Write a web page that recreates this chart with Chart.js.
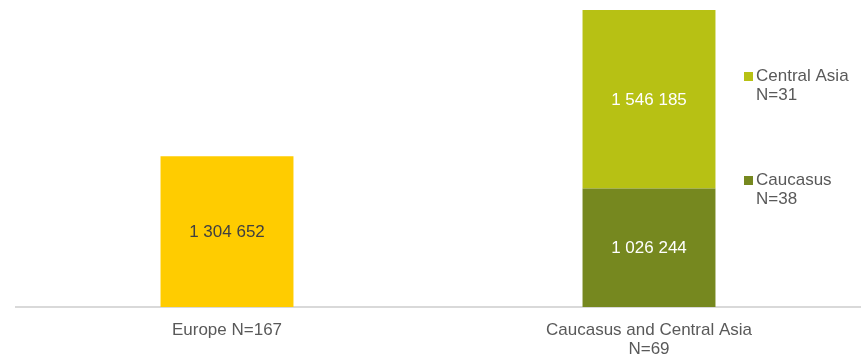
<!DOCTYPE html>
<html>
<head>
<meta charset="utf-8">
<script src="https://cdn.jsdelivr.net/npm/chart.js@4"></script>
<style>
  html, body { margin: 0; padding: 0; background: #fff; }
  #wrap { width: 867px; height: 358px; }
</style>
</head>
<body>
<div id="wrap"><canvas id="chart"></canvas></div>
<script>
// Categories and series
const categories = [['Europe N=167'], ['Caucasus and Central Asia', 'N=69']];
const europe = [1304652, null];
const caucasus = [null, 1026244];
const centralAsia = [null, 1546185];
const legendItems = [['Central Asia', 'N=31'], ['Caucasus', 'N=38']];

const FONT = "'Liberation Sans', Arial, sans-serif";

// Thousands with a plain space: 1 304 652
function fmt(v) {
  return String(v).replace(/\B(?=(\d{3})+(?!\d))/g, ' ');
}

const totals = categories.map((c, i) => (europe[i] || 0) + (caucasus[i] || 0) + (centralAsia[i] || 0));

// Value labels in the middle of each segment
const valueLabels = {
  id: 'valueLabels',
  afterDatasetsDraw(chart) {
    const ctx = chart.ctx;
    ctx.save();
    ctx.font = '17px ' + FONT;
    ctx.textAlign = 'center';
    ctx.textBaseline = 'middle';
    chart.data.datasets.forEach((ds, di) => {
      const meta = chart.getDatasetMeta(di);
      meta.data.forEach((bar, i) => {
        const v = ds.data[i];
        if (v == null) return;
        const p = bar.getProps(['x', 'y', 'base'], true);
        ctx.fillStyle = ds.labelColor;
        ctx.fillText(fmt(v), p.x, (p.y + p.base) / 2 + 1);
      });
    });
    ctx.restore();
  }
};

// Side legend with two-line entries
const sideLegend = {
  id: 'sideLegend',
  afterDraw(chart) {
    const ctx = chart.ctx;
    const colors = ['#b7c114', '#76881f'];
    const tops = [76, 180];
    ctx.save();
    ctx.font = '17px ' + FONT;
    ctx.textAlign = 'left';
    ctx.textBaseline = 'middle';
    legendItems.forEach((lines, i) => {
      ctx.fillStyle = colors[i];
      ctx.fillRect(744, tops[i] - 4, 9, 9);
      ctx.fillStyle = '#595959';
      lines.forEach((t, j) => ctx.fillText(t, 756, tops[i] + j * 19.5));
    });
    ctx.restore();
  }
};

new Chart(document.getElementById('chart'), {
  type: 'bar',
  data: {
    labels: categories,
    datasets: [
      { label: 'Europe', data: europe, backgroundColor: '#ffcc00', labelColor: '#404040' },
      { label: 'Caucasus', data: caucasus, backgroundColor: '#76881f', labelColor: '#ffffff' },
      { label: 'Central Asia', data: centralAsia, backgroundColor: '#b7c114', labelColor: '#ffffff' }
    ]
  },
  options: {
    responsive: true,
    maintainAspectRatio: false,
    animation: false,
    layout: { padding: { left: 16, right: 7, top: 10, bottom: 0 } },
    datasets: {
      bar: { categoryPercentage: 1, barPercentage: 0.315, skipNull: true }
    },
    plugins: {
      legend: { display: false },
      tooltip: { enabled: false }
    },
    scales: {
      x: {
        stacked: true,
        grid: { display: false, drawTicks: false },
        border: { display: true, color: '#d9d9d9', width: 2 },
        ticks: {
          color: '#595959',
          font: { family: FONT, size: 17, lineHeight: 1.1 },
          padding: 14,
          maxRotation: 0
        },
        afterFit(scale) { scale.height = 51; }
      },
      y: {
        stacked: true,
        display: false,
        min: 0,
        max: Math.max(...totals)
      }
    }
  },
  plugins: [valueLabels, sideLegend]
});
</script>
</body>
</html>
